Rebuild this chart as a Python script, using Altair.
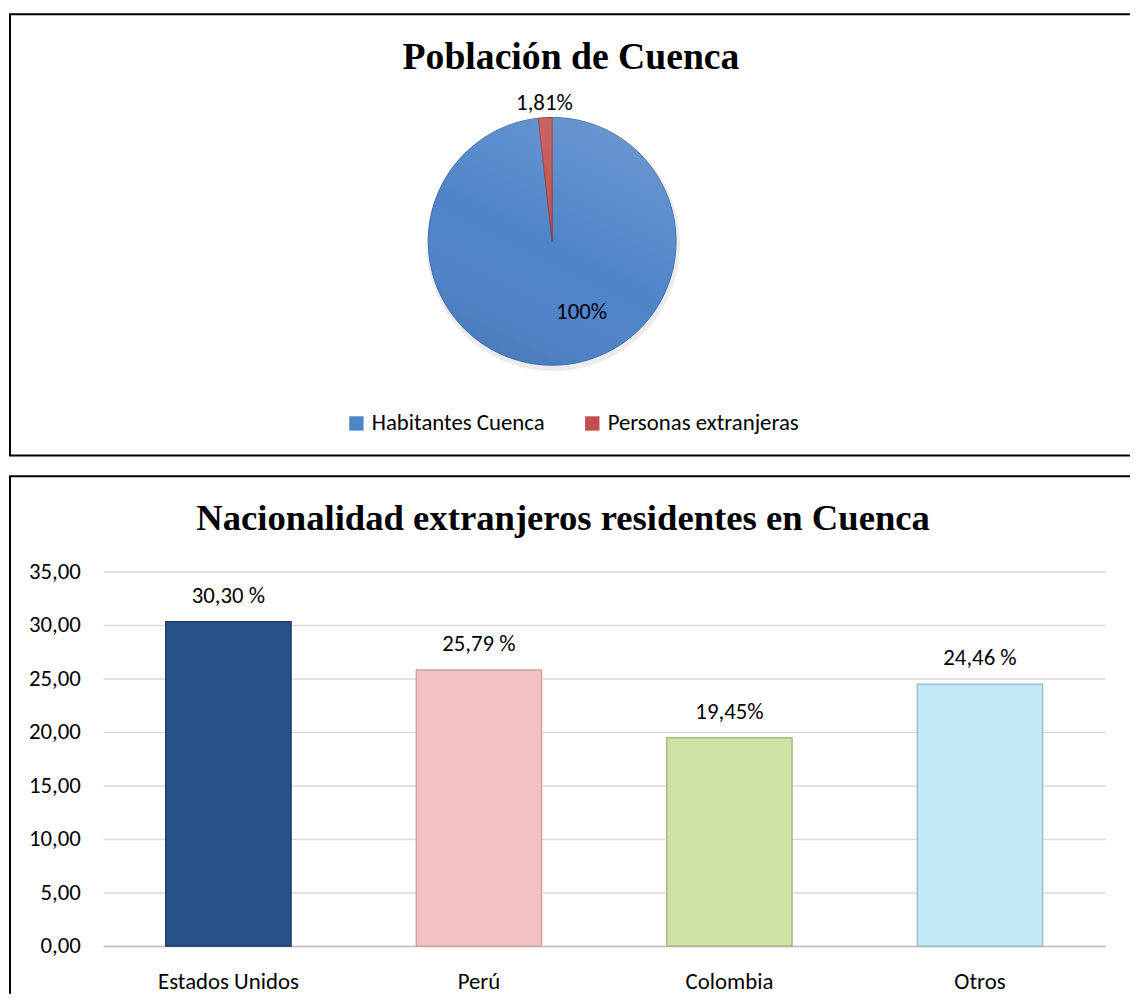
import altair as alt
import pandas as pd

# ---------------- data ----------------
pie_title = "Población de Cuenca"
pie_categories = ["Habitantes Cuenca", "Personas extranjeras"]
pie_values = [100, 1.81]
pie_labels = ["100%", "1,81%"]
pie_colors = ["#4F84C9", "#C0504D"]
pie_strokes = ["#3D69A6", "#8E3937"]

bar_title = "Nacionalidad extranjeros residentes en Cuenca"
bar_categories = ["Estados Unidos", "Perú", "Colombia", "Otros"]
bar_values = [30.30, 25.79, 19.45, 24.46]
bar_labels = ["30,30 %", "25,79 %", "19,45%", "24,46 %"]
bar_colors = ["#27538A", "#F2C2C2", "#D1E2A5", "#C2EAF4"]
bar_strokes = ["#1C3D66", "#CFA3A3", "#A9B985", "#9BC0CA"]
y_ticks = [0, 5, 10, 15, 20, 25, 30, 35]

SANS = "Calibri, Carlito, Lato, sans-serif"
SERIF = "Times New Roman, Liberation Serif, serif"
FS = 23

W = 1131
H1 = 452
H2 = 528
GAP = 10

one = pd.DataFrame({"k": [0]})


def hline(y, x1, x2):
    return alt.Chart(one).mark_rule(color="#000000", strokeWidth=2).encode(
        x=alt.value(x1), x2=alt.value(x2), y=alt.value(y))


def vline(x, y1, y2):
    return alt.Chart(one).mark_rule(color="#000000", strokeWidth=2).encode(
        x=alt.value(x), y=alt.value(y1), y2=alt.value(y2))


# ---------------- pie panel ----------------
pie_df = pd.DataFrame({"cat": pie_categories, "val": pie_values,
                       "label": pie_labels, "order": [0, 1]})
cx, cy, R = 548, 231, 125

base = alt.Chart(pie_df).encode(
    theta=alt.Theta("val:Q", stack=True),
    order=alt.Order("order:Q"),
)

shadow = alt.Chart(one).mark_arc(theta=0, theta2=6.2832, radius=R + 3,
                                 fill="#000000", opacity=0.08).encode(
    x=alt.value(cx + 1), y=alt.value(cy + 3))

arcs = base.mark_arc(radius=R, strokeWidth=1).encode(
    color=alt.Color("cat:N", scale=alt.Scale(domain=pie_categories, range=pie_colors),
                    legend=alt.Legend(title=None, orient="none", legendX=339, legendY=403,
                                      direction="horizontal", columns=2, columnPadding=36,
                                      symbolType="square", symbolSize=210,
                                      symbolStrokeWidth=0, labelFont=SANS,
                                      labelFontSize=FS, labelColor="#000000",
                                      labelLimit=600, labelOffset=4, padding=0)),
    stroke=alt.Stroke("cat:N", scale=alt.Scale(domain=pie_categories, range=pie_strokes),
                      legend=None),
    x=alt.value(cx), y=alt.value(cy),
)

sheen = alt.Chart(one).mark_arc(
    theta=0, theta2=6.2832, radius=R,
    fill=alt.LinearGradient(gradient="linear",
                            stops=[alt.GradientStop(color="rgba(255,255,255,0.16)", offset=0),
                                   alt.GradientStop(color="rgba(255,255,255,0.0)", offset=0.55),
                                   alt.GradientStop(color="rgba(0,0,0,0.07)", offset=1)],
                            x1=0.8, y1=0, x2=0.3, y2=1)).encode(
    x=alt.value(cx), y=alt.value(cy))

lab_in = base.transform_calculate(t="datum.order == 0 ? datum.label : ''").mark_text(
    radius=71, align="left", baseline="middle", font=SANS, fontSize=FS, color="#000000"
).encode(text="t:N", x=alt.value(cx), y=alt.value(cy))

lab_out = base.transform_calculate(t="datum.order == 1 ? datum.label : ''").mark_text(
    radius=140, align="center", baseline="middle", font=SANS, fontSize=FS, color="#000000"
).encode(text="t:N", x=alt.value(cx), y=alt.value(cy))

title1 = alt.Chart(pd.DataFrame({"t": [pie_title]})).mark_text(
    font=SERIF, fontSize=38, fontWeight="bold", align="center", baseline="alphabetic",
    color="#000000").encode(text="t:N", x=alt.value(567), y=alt.value(57))

top = alt.layer(
    shadow, arcs, sheen, lab_in, lab_out, title1,
    hline(2, 0, W), hline(447, 0, W), vline(1, 2, 447),
).properties(width=W, height=H1)

# ---------------- bar panel ----------------
bar_df = pd.DataFrame({"cat": bar_categories, "val": bar_values, "label": bar_labels})

xenc = alt.X("cat:N", sort=bar_categories,
             scale=alt.Scale(range=[95, 1106], paddingInner=0.5, paddingOuter=0.25),
             axis=alt.Axis(title=None, labelAngle=0, orient="bottom", offset=-48,
                           domain=True, domainColor="#BFBFBF", domainWidth=1.5,
                           ticks=False, tickSize=0, labelPadding=36, labelBaseline="middle",
                           labelFont=SANS, labelFontSize=FS, labelColor="#000000",
                           grid=False))
yenc = alt.Y("val:Q",
             scale=alt.Scale(domain=[0, 35], range=[480, 102], nice=False, zero=True),
             axis=alt.Axis(title=None, values=y_ticks, orient="left", offset=-95,
                           domain=False, ticks=False, tickSize=0, labelPadding=23,
                           labelExpr="replace(format(datum.value, '.2f'), '.', ',')",
                           labelFont=SANS, labelFontSize=FS, labelColor="#000000",
                           grid=True, gridColor="#D9D9D9", gridWidth=1.5))

bars = alt.Chart(bar_df).mark_bar(strokeWidth=1.5).encode(
    x=xenc, y=yenc,
    color=alt.Color("cat:N", scale=alt.Scale(domain=bar_categories, range=bar_colors),
                    legend=None),
    stroke=alt.Stroke("cat:N", scale=alt.Scale(domain=bar_categories, range=bar_strokes),
                      legend=None),
)

bar_text = alt.Chart(bar_df).mark_text(dy=-26, baseline="middle", font=SANS, fontSize=FS,
                                       color="#000000").encode(
    x=alt.X("cat:N", sort=bar_categories), y=alt.Y("val:Q"), text="label:N")

title2 = alt.Chart(pd.DataFrame({"t": [bar_title]})).mark_text(
    font=SERIF, fontSize=37, fontWeight="bold", align="center", baseline="alphabetic",
    color="#000000").encode(text="t:N", x=alt.value(559), y=alt.value(60))

bottom = alt.layer(
    bars, bar_text, title2,
    hline(6, 0, W), vline(1, 6, H2),
).properties(width=W, height=H2)

chart = alt.vconcat(top, bottom, spacing=GAP).resolve_scale(
    color="independent", stroke="independent"
).properties(padding=0).configure_view(stroke=None)

chart.save("out.html", embed_options={"renderer": "svg", "actions": False})
